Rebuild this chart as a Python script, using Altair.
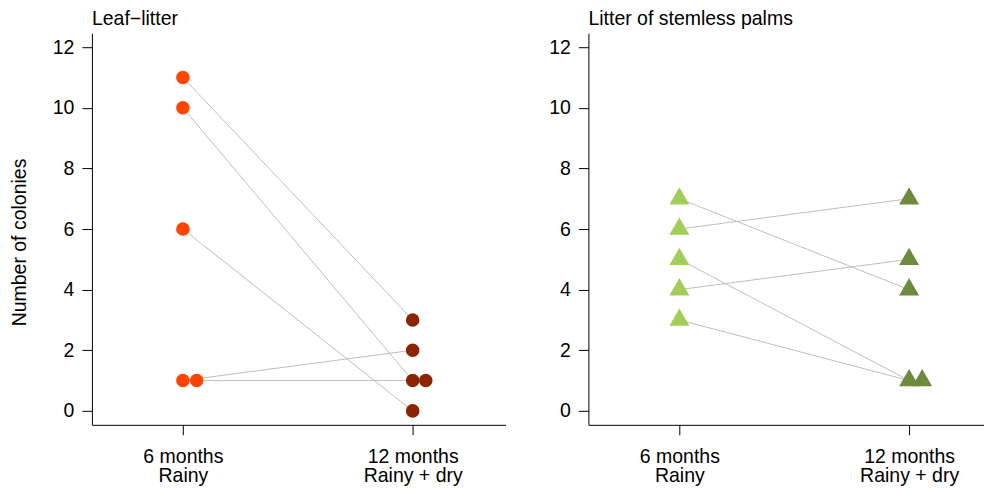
import altair as alt
import pandas as pd

# ---- data ----
time_labels = ["6 months", "12 months"]
leaf_6 = [11, 10, 6, 1, 1]
leaf_12 = [3, 1, 0, 2, 1]
leaf_jit_6 = [0, 0, 0, 0, 0.06]
leaf_jit_12 = [0, 0, 0, 0, 0.057]
palm_6 = [7, 6, 5, 4, 3]
palm_12 = [4, 7, 1, 5, 1]
palm_jit_6 = [0, 0, 0, 0, 0]
palm_jit_12 = [0, 0, 0, 0, 0.057]

leaf_colors = ["#FF4500", "#8B2500"]
palm_colors = ["#A2CD5A", "#6E8B3D"]

FONT = "Liberation Sans"
FS = 19.5


def build(v6, v12, j6, j12):
    rows = []
    for i in range(len(v6)):
        rows.append({"pair": i, "t": 1, "xj": 1 + j6[i], "y": v6[i], "time": time_labels[0]})
    for i in range(len(v12)):
        rows.append({"pair": i, "t": 2, "xj": 2 + j12[i], "y": v12[i], "time": time_labels[1]})
    return pd.DataFrame(rows)


label_expr = "datum.value == 1 ? ['6 months', 'Rainy'] : ['12 months', 'Rainy + dry']"


def panel(df, title, colors, shape, size, xmax, width, ytitle):
    x_axis = alt.Axis(values=[1, 2], labelExpr=label_expr, tickSize=10, labelPadding=13,
                      labelLineHeight=19, labelBaseline="top", title=None, grid=False)
    if ytitle:
        y_axis = alt.Axis(values=list(range(0, 13, 2)), tickSize=10, labelPadding=8, grid=False,
                          title=ytitle, titleX=-66, titleY=209, titleBaseline="alphabetic",
                          titleAngle=-90, titleAlign="center")
    else:
        y_axis = alt.Axis(values=list(range(0, 13, 2)), tickSize=10, labelPadding=8, grid=False,
                          title=None)
    xs = alt.Scale(domain=[0.604, xmax], nice=False, zero=False)
    ys = alt.Scale(domain=[-0.46, 12.46], nice=False, zero=False)
    base = alt.Chart(df)
    lines = base.mark_line(color="#BEBEBE", strokeWidth=1).encode(
        x=alt.X("t:Q", scale=xs, axis=x_axis),
        y=alt.Y("y:Q", scale=ys, axis=y_axis),
        detail="pair:N",
    )
    pts = base.mark_point(filled=True, opacity=1, size=size, shape=shape, strokeWidth=0).encode(
        x=alt.X("xj:Q", scale=xs),
        y=alt.Y("y:Q", scale=ys),
        color=alt.Color("time:N", scale=alt.Scale(domain=time_labels, range=colors), legend=None),
    )
    return alt.layer(lines, pts).properties(
        width=width, height=392,
        title=alt.TitleParams(title, anchor="start", frame="group", fontSize=FS, font=FONT,
                              fontWeight="normal", offset=4, color="black"),
    )


leaf = panel(build(leaf_6, leaf_12, leaf_jit_6, leaf_jit_12), "Leaf\u2212litter", leaf_colors,
             "circle", 185, 2.404, 414, "Number of colonies")
tri = "M0,-1.155L1,0.577L-1,0.577Z"
palm = panel(build(palm_6, palm_12, palm_jit_6, palm_jit_12), "Litter of stemless palms", palm_colors,
             tri, 400, 2.326, 396, None)

chart = alt.hconcat(leaf, palm, spacing=43).resolve_scale(color="independent").properties(
    padding={"left": 2, "top": 0, "right": 0, "bottom": 0}
).configure_view(stroke=None).configure_axis(
    labelFont=FONT, labelFontSize=FS, labelColor="black", titleFont=FONT, titleFontSize=FS,
    titleFontWeight="normal", titleColor="black", domainColor="black", tickColor="black",
    domainWidth=1, tickWidth=1,
)

chart.save("out.html", embed_options={"renderer": "svg", "actions": False})
